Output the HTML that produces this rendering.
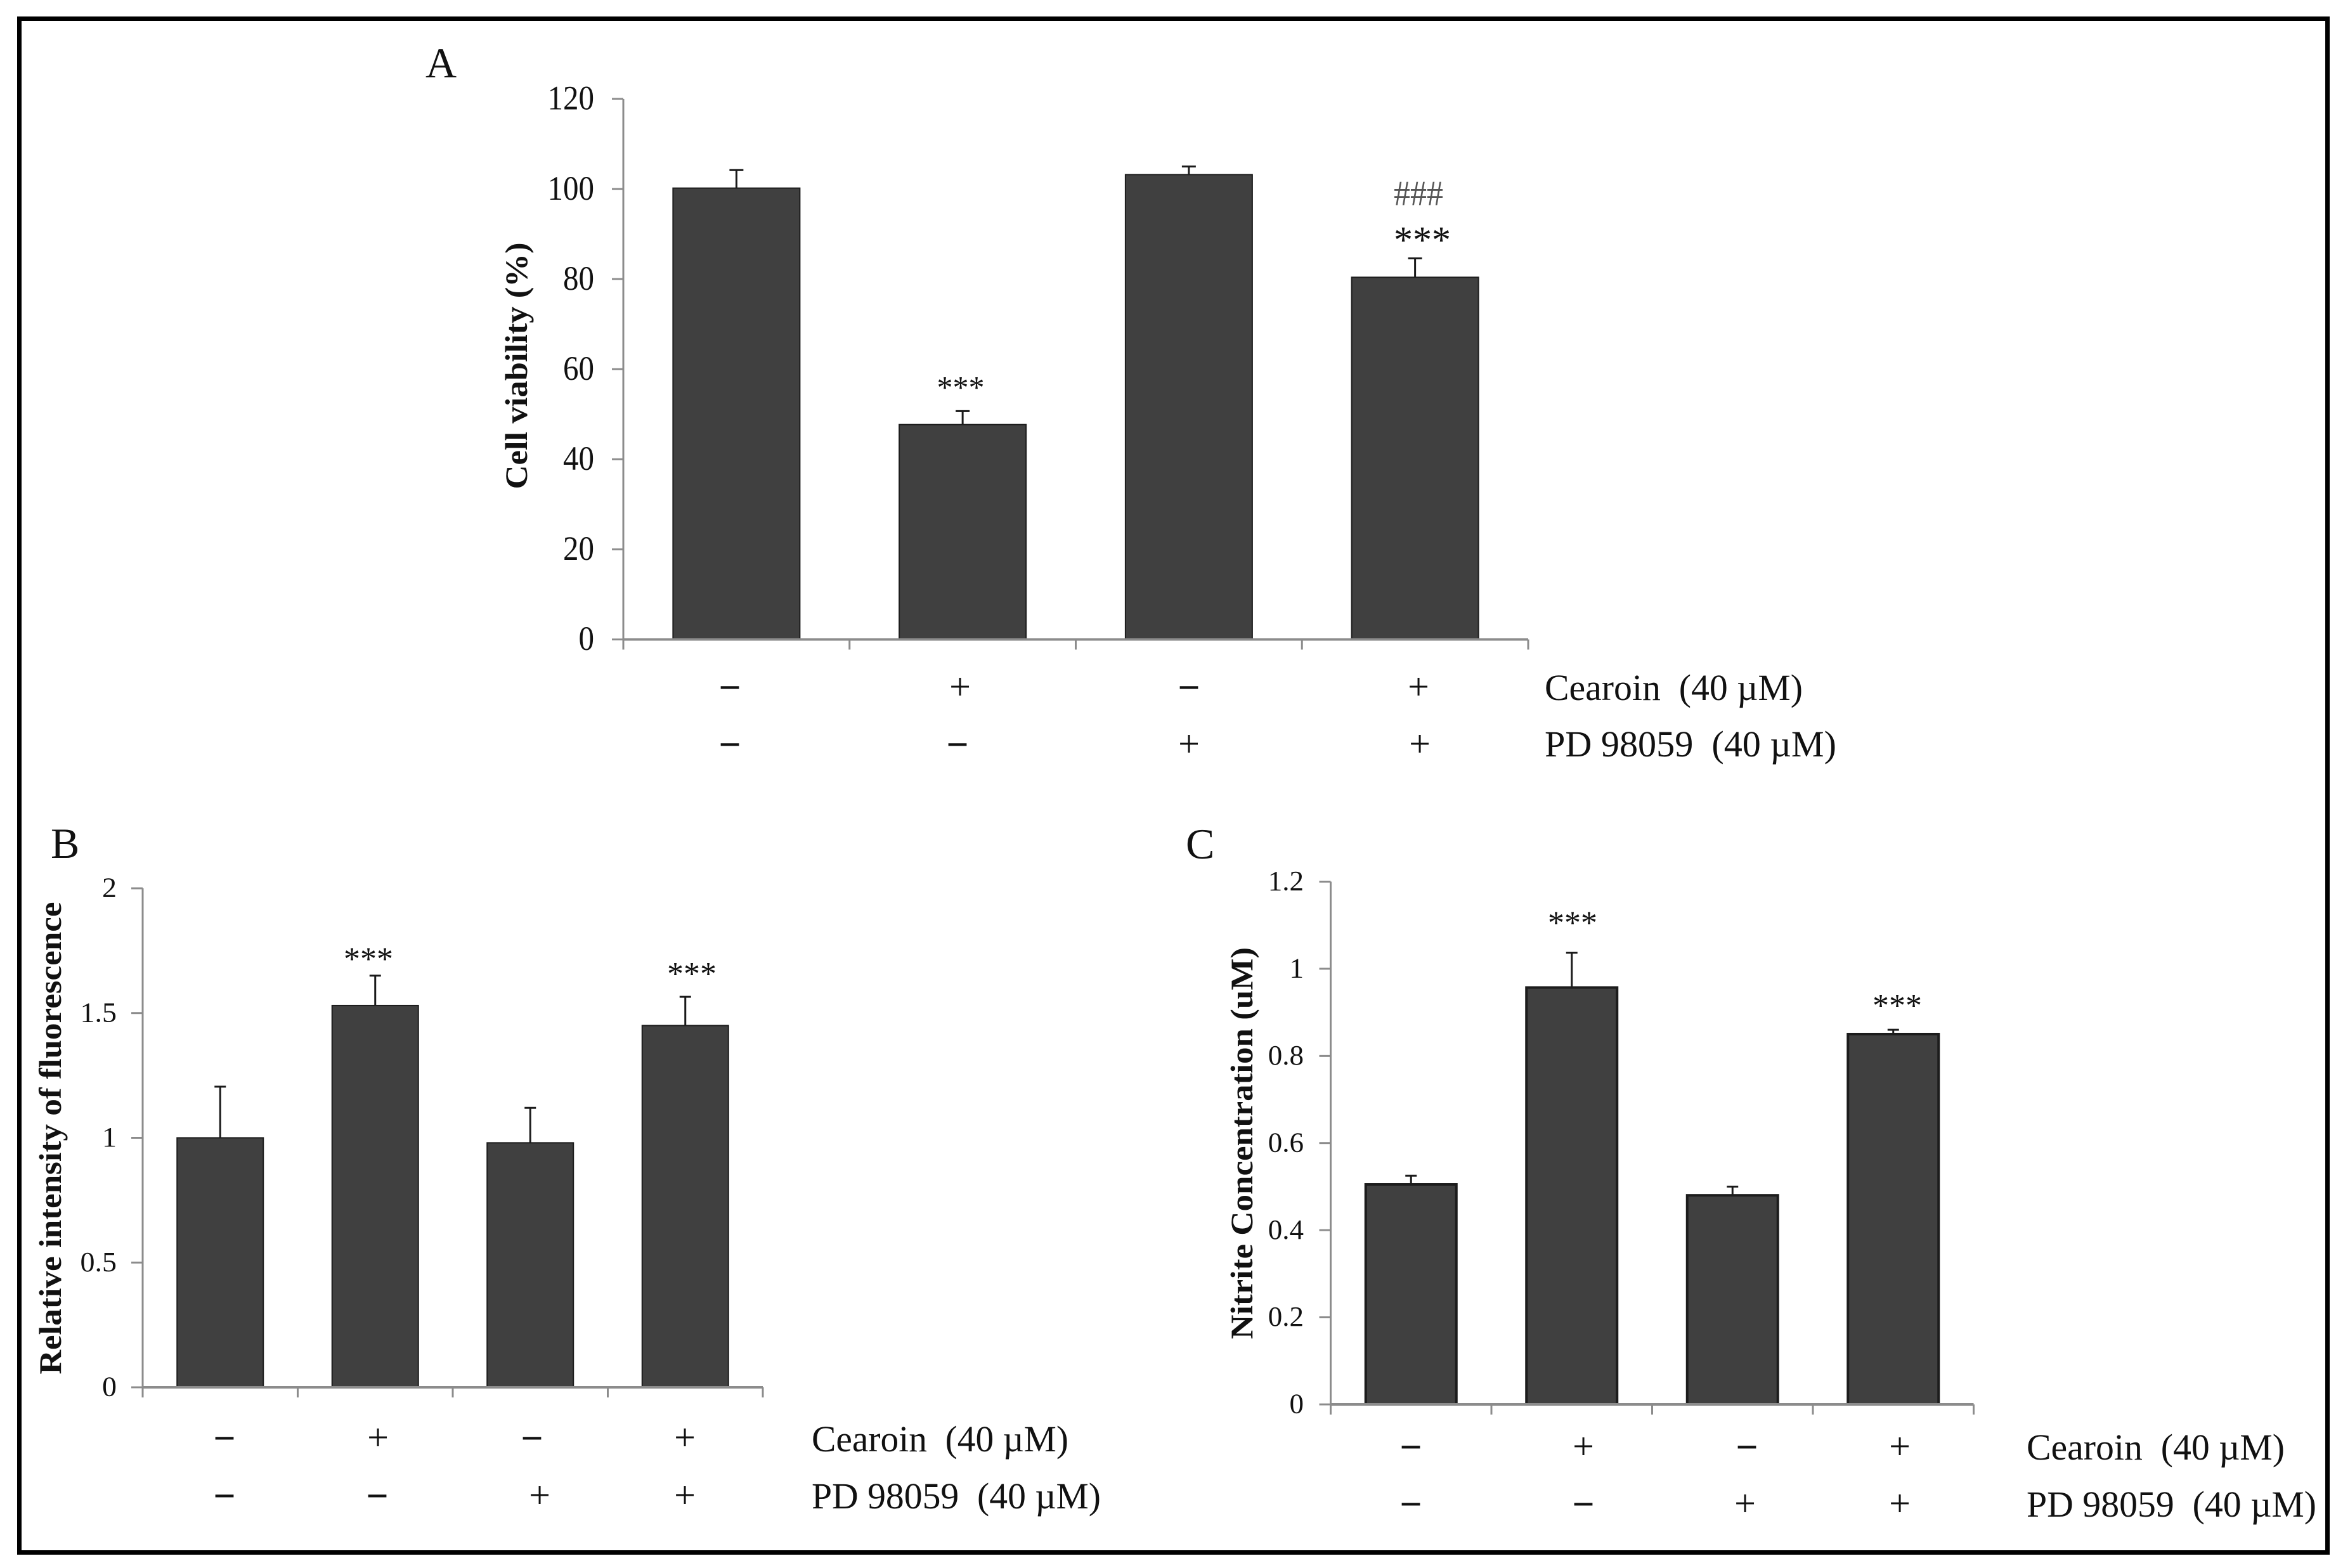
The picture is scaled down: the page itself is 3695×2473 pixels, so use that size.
<!DOCTYPE html>
<html>
<head>
<meta charset="utf-8">
<title>Cearoin and PD 98059 bar charts</title>
<style>
html,body{margin:0;padding:0;background:#fff;width:3695px;height:2473px;overflow:hidden}
svg{display:block}
text{font-family:"Liberation Serif","Noto Serif CJK SC",serif;fill:#111}
</style>
</head>
<body>
<svg id="figure" xmlns="http://www.w3.org/2000/svg" width="3695" height="2473" viewBox="0 0 3695 2473">
<rect x="0" y="0" width="3695" height="2473" fill="#fff"/>
<rect x="30.5" y="29.5" width="3640" height="2419" fill="none" stroke="#000" stroke-width="7"/>
</svg>
<script>
// ---- data ----
const cearoinRow = ['−', '+', '−', '+'];
const pdRow = ['−', '−', '+', '+'];

const viabilityValues = [100.2, 47.7, 103.2, 80.4];
const viabilityErrors = [4.0, 3.0, 1.8, 4.2];
const viabilityTicks = [0, 20, 40, 60, 80, 100, 120];
const viabilityStars = ['', '***', '', '***'];
const viabilityHashes = ['', '', '', '###'];

const fluorescenceValues = [1.0, 1.53, 0.98, 1.45];
const fluorescenceErrors = [0.205, 0.12, 0.14, 0.115];
const fluorescenceTicks = [0, 0.5, 1, 1.5, 2];
const fluorescenceStars = ['', '***', '', '***'];

const nitriteValues = [0.505, 0.957, 0.48, 0.85];
const nitriteErrors = [0.02, 0.08, 0.02, 0.01];
const nitriteTicks = [0, 0.2, 0.4, 0.6, 0.8, 1, 1.2];
const nitriteStars = ['', '***', '', '***'];

// ---- drawing ----
const NS = 'http://www.w3.org/2000/svg';
const root = document.getElementById('figure');

function makeGroup(name) {
  const el = document.createElementNS(NS, 'g');
  
  
  root.appendChild(el);
  return el;
}
function line(parent, name, x1, y1, x2, y2, color, w) {
  const el = document.createElementNS(NS, 'line');
  
  
  el.setAttribute('x1', x1);
  el.setAttribute('y1', y1);
  el.setAttribute('x2', x2);
  el.setAttribute('y2', y2);
  el.setAttribute('stroke', color);
  el.setAttribute('stroke-width', w);
  parent.appendChild(el);
}
function label(parent, name, str, x, y, size, opts) {
  const o = opts || {};
  const el = document.createElementNS(NS, 'text');
  
  
  el.setAttribute('x', x);
  el.setAttribute('y', y);
  el.setAttribute('font-size', size);
  el.setAttribute('text-anchor', o.anchor || 'start');
  if (o.bold) el.setAttribute('font-weight', 'bold');
  if (o.fill) el.setAttribute('style', 'fill:' + o.fill);
  if (o.width) {
    el.setAttribute('textLength', o.width);
    el.setAttribute('lengthAdjust', 'spacingAndGlyphs');
  }
  if (o.rotate) el.setAttribute('transform', 'rotate(' + o.rotate + ' ' + x + ' ' + y + ')');
  el.textContent = str;
  parent.appendChild(el);
}

function drawPanel(p) {
  const g = makeGroup(p.id);
  const y = v => p.y0 - (v / p.yMax) * (p.y0 - p.yTop);
  const n = p.values.length;
  const band = (p.xRight - p.xLeft) / n;
  const cx = i => p.xLeft + band * (i + 0.5);

  // error bars go behind the bars
  p.values.forEach((v, i) => {
    line(g, 'error-stem-' + (i + 1), cx(i), y(v), cx(i), y(v + p.errors[i]), '#1a1a1a', 3);
    line(g, 'error-cap-' + (i + 1), cx(i) - p.cap, y(v + p.errors[i]), cx(i) + p.cap, y(v + p.errors[i]), '#1a1a1a', 3);
  });
  // bars
  p.values.forEach((v, i) => {
    const el = document.createElementNS(NS, 'rect');
    
    
    el.setAttribute('x', cx(i) - p.barW / 2);
    el.setAttribute('y', y(v));
    el.setAttribute('width', p.barW);
    el.setAttribute('height', p.y0 - y(v));
    el.setAttribute('fill', '#404040');
    el.setAttribute('stroke', '#1c1c1c');
    el.setAttribute('stroke-width', p.barStroke);
    g.appendChild(el);
  });
  // axes
  line(g, 'y-axis', p.xLeft, y(p.yMax), p.xLeft, p.y0, '#8c8c8c', 3);
  line(g, 'x-axis', p.xLeft, p.y0, p.xRight, p.y0, '#8c8c8c', 4);
  p.ticks.forEach(t => {
    line(g, 'y-tick-' + t, p.xLeft - 18, y(t), p.xLeft, y(t), '#8c8c8c', 3);
    const s = String(t);
    label(g, 'y-tick-label-' + t, s, p.tickLabelRight, y(t) + p.tickSize * 0.31, p.tickSize,
      { anchor: 'end', width: s.replace('.', '').length * p.digitW + (s.includes('.') ? p.digitW * 0.5 : 0) });
  });
  for (let i = 0; i <= n; i++) {
    line(g, 'x-tick-' + i, p.xLeft + band * i, p.y0, p.xLeft + band * i, p.y0 + 16, '#8c8c8c', 3);
  }
  // significance marks ride on the error-bar tops
  p.stars.forEach((s, i) => {
    if (s) label(g, 'significance-stars-' + (i + 1), s, p.starX[i], y(p.values[i] + p.errors[i]) - p.starGap[i], p.starSize[i],
      { anchor: 'middle', width: p.starSize[i] * 1.5 });
  });
  (p.hashes || []).forEach((s, i) => {
    if (s) label(g, 'significance-hashes-' + (i + 1), s, p.hashX, y(p.values[i] + p.errors[i]) - p.hashGap, 56,
      { anchor: 'middle', width: 78, fill: '#555' });
  });
  // treatment rows
  [[cearoinRow, p.row1X, p.row1Y, 'cearoin'], [pdRow, p.row2X, p.row2Y, 'pd']].forEach(r => {
    r[0].forEach((m, i) => {
      const minus = m === '−';
      label(g, r[3] + '-sign-' + (i + 1), m, r[1][i], r[2] + (minus ? 23 : 21), minus ? 62 : 60,
        { anchor: 'middle', bold: minus });
    });
  });
  label(g, 'cearoin-label', 'Cearoin\u00a0 (40 µM)', p.legendX, p.legend1Y, 58, { width: p.legend1W });
  label(g, 'pd-label', 'PD 98059\u00a0 (40 µM)', p.legendX, p.legend2Y, 58, { width: p.legend2W });
  // panel letter and y title
  label(g, 'panel-letter', p.letter, p.letterX, p.letterY, 68, {});
  label(g, 'y-axis-title', p.title, p.titleX, p.titleY, p.titleSize,
    { anchor: 'middle', bold: true, width: p.titleW, rotate: -90 });
}

drawPanel({
  id: 'panel-a', letter: 'A', letterX: 671, letterY: 122,
  title: 'Cell viability (%)', titleX: 831, titleY: 577, titleW: 389, titleSize: 50,
  values: viabilityValues, errors: viabilityErrors, ticks: viabilityTicks,
  stars: viabilityStars, hashes: viabilityHashes,
  yMax: 120, y0: 1008.5, yTop: 156, xLeft: 983, xRight: 2410, barW: 200, barStroke: 2, cap: 11,
  tickLabelRight: 937, tickSize: 54, digitW: 24.5,
  starX: [0, 1515, 0, 2243], starGap: [0, 21, 0, 9], starSize: [0, 50, 0, 60],
  hashX: 2237, hashGap: 84,
  row1X: [1151, 1514, 1875, 2237], row1Y: 1082,
  row2X: [1151, 1510, 1875, 2239], row2Y: 1172,
  legendX: 2436, legend1Y: 1104, legend2Y: 1193, legend1W: 407, legend2W: 460
});
drawPanel({
  id: 'panel-b', letter: 'B', letterX: 80, letterY: 1353,
  title: 'Relative intensity of fluorescence', titleX: 96, titleY: 1795, titleW: 745, titleSize: 50,
  values: fluorescenceValues, errors: fluorescenceErrors, ticks: fluorescenceTicks,
  stars: fluorescenceStars,
  yMax: 2, y0: 2188, yTop: 1401, xLeft: 225, xRight: 1203, barW: 136, barStroke: 2, cap: 9,
  tickLabelRight: 184, tickSize: 44, digitW: 23,
  starX: [0, 581, 0, 1091], starGap: [0, 9, 0, 19], starSize: [0, 52, 0, 52],
  row1X: [354, 596, 839, 1080], row1Y: 2266,
  row2X: [354, 595, 851, 1080], row2Y: 2357,
  legendX: 1280, legend1Y: 2289, legend2Y: 2379, legend1W: 405, legend2W: 456
});
drawPanel({
  id: 'panel-c', letter: 'C', letterX: 1870, letterY: 1354,
  title: 'Nitrite Concentration (uM)', titleX: 1975, titleY: 1803, titleW: 618, titleSize: 50,
  values: nitriteValues, errors: nitriteErrors, ticks: nitriteTicks,
  stars: nitriteStars,
  yMax: 1.2, y0: 2215, yTop: 1390.5, xLeft: 2098.5, xRight: 3112.5, barW: 143, barStroke: 4, cap: 9,
  tickLabelRight: 2056, tickSize: 44, digitW: 22.5,
  starX: [0, 2480, 0, 2992], starGap: [0, 30, 0, 21], starSize: [0, 52, 0, 52],
  row1X: [2225, 2497, 2755, 2996], row1Y: 2280,
  row2X: [2225, 2497, 2752, 2996], row2Y: 2370,
  legendX: 3196, legend1Y: 2302, legend2Y: 2392, legend1W: 407, legend2W: 457
});
</script>
</body>
</html>
